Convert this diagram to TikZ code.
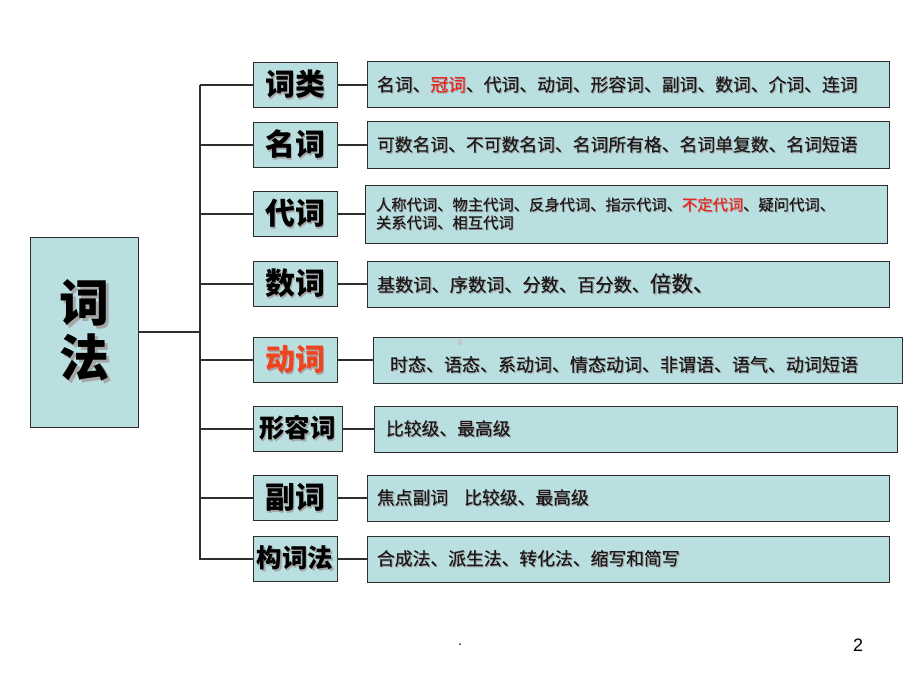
\documentclass[tikz,border=0pt]{standalone}
\usepackage{fontspec}
\newfontfamily\cjk{Noto Sans CJK SC}
\newfontfamily\cjkd[FakeBold=0.4]{Noto Sans CJK SC}
\newfontfamily\lat{Liberation Sans}
\definecolor{boxfill}{HTML}{B9DFE1}
\definecolor{redt}{HTML}{E8281E}
\definecolor{orgt}{HTML}{F0441E}
\definecolor{linec}{HTML}{2E2E2E}
\definecolor{textc}{HTML}{1A1A1A}
\newcommand\shd[1]{\leavevmode\rlap{\hspace{0.06em}\raisebox{-0.06em}{\textcolor{black!35}{#1}}}#1}
\newcommand\shdc[2]{\leavevmode\rlap{\hspace{0.06em}\raisebox{-0.06em}{\textcolor{black!35}{#2}}}\textcolor{#1}{#2}}
\tikzset{
  boxbase/.style={draw=linec, line width=1pt, fill=boxfill},
  catbox/.style={boxbase, minimum width=84pt, minimum height=45pt, inner sep=0pt,
    font=\cjk\bfseries\fontsize{30}{32}\selectfont, text=black},
  catboxs/.style={catbox, font=\cjk\bfseries\fontsize{25.5}{28}\selectfont},
  detbox/.style={boxbase, minimum height=46pt, inner xsep=10pt, align=left,
    font=\cjkd\fontsize{17.8}{21}\selectfont, text=textc},
  conn/.style={draw=linec, line width=1.3pt},
}
\begin{document}
\begin{tikzpicture}[x=1pt,y=-1pt]
\useasboundingbox (0,0) rectangle (920,690);

% main box
\node[boxbase, minimum width=108pt, minimum height=190pt, align=center, inner sep=0pt,
  font=\cjk\bfseries\fontsize{50}{55}\selectfont] (big) at (84,332) {\shd{词}\\[0pt]\shd{法}};

% trunk
\coordinate (top) at (200,85);
\coordinate (bot) at (200,560);

% categories
\node[catbox] (c1) at (295,85) {\shd{词类}};
\node[catbox] (c2) at (295,145) {\shd{名词}};
\node[catbox] (c3) at (295,214) {\shd{代词}};
\node[catbox] (c4) at (295,284) {\shd{数词}};
\node[catbox] (c5) at (295,360) {\shdc{orgt}{动词}};
\node[catboxs, minimum width=89pt] (c6) at (297.5,429) {\shd{形容词}};
\node[catbox] (c7) at (295,498) {\shd{副词}};
\node[catboxs] (c8) at (295,559) {\shd{构词法}};

% details
\node[detbox, text width=502pt] (d1) at (628,85) {\shd{名词、}\shdc{redt}{冠词}\shd{、代词、动词、形容词、副词、数词、介词、连词}};
\node[detbox, text width=502pt] (d2) at (628,145) {\shd{可数名词、不可数名词、名词所有格、名词单复数、名词短语}};
\node[detbox, text width=500pt, minimum height=58pt, inner xsep=11pt,
  font=\cjkd\fontsize{15.3}{18}\selectfont] (d3) at (626,214) {\shd{人称代词、物主代词、反身代词、指示代词、}\shdc{redt}{不定代词}\shd{、疑问代词、}\\\shd{关系代词、相互代词}};
\node[detbox, text width=502pt, font=\cjkd\fontsize{18.2}{21}\selectfont] (d4) at (628,284) {\shd{基数词、序数词、分数、百分数、}{\fontsize{21.5}{23}\selectfont\shd{倍数、}}};
\node[detbox, text width=495pt, inner xsep=17pt, font=\cjkd\fontsize{18}{21}\selectfont] (d5) at (637.5,360) {\raisebox{-5pt}[\height][\depth]{\shd{时态、语态、系动词、情态动词、非谓语、语气、动词短语}}};
\node[detbox, text width=499pt, inner xsep=12pt] (d6) at (635.5,429) {\shd{比较级、最高级}};
\node[detbox, text width=502pt] (d7) at (628,498) {\shd{焦点副词}\hspace{0.9em}\shd{比较级、最高级}};
\node[detbox, text width=502pt] (d8) at (628,559) {\shd{合成法、派生法、转化法、缩写和简写}};

% connectors
\draw[conn] (top) -- (bot);
\draw[conn] (big.east) -- (big.east -| top);
\foreach \i in {1,...,8} {
  \draw[conn] (c\i.west) -- (c\i.west -| top);
  \draw[conn] (c\i.east) -- (d\i.west);
}

% small artifact
\fill[black!22] (458,339) rectangle (462,345);

% footer
\node[font=\lat\fontsize{14}{16}\selectfont] (dot) at (460,645) {.};
\node[font=\lat\fontsize{18}{20}\selectfont] (pg) at (858,645) {2};
\end{tikzpicture}
\end{document}
